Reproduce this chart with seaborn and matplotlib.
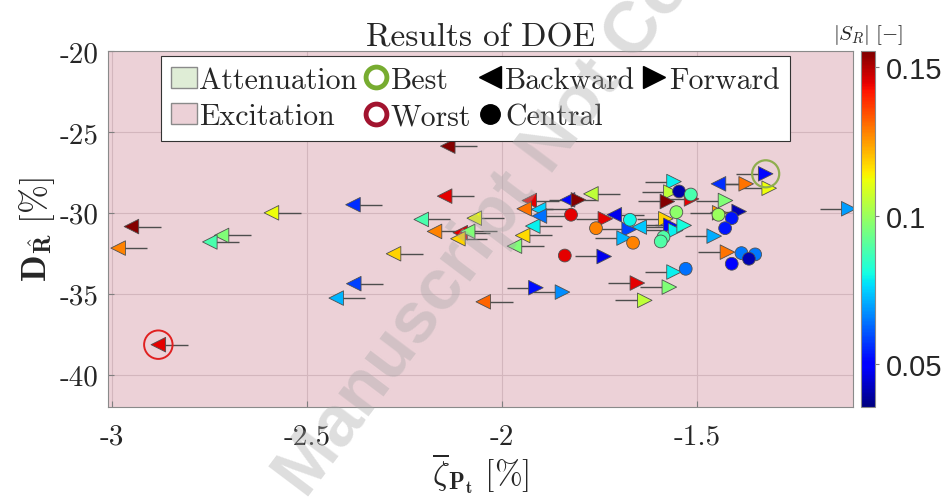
import matplotlib
matplotlib.use("Agg")
import pandas as pd
import matplotlib.pyplot as plt
import seaborn as sns
from matplotlib.cm import ScalarMappable
from matplotlib.colors import Normalize
from matplotlib.lines import Line2D
from matplotlib.patches import Patch
from matplotlib.ticker import FuncFormatter

# backward designs: marker points left, tail goes to the right
backward_x = [-2.591, -2.950, -2.984, -2.719, -2.749, -2.881, -2.425, -2.382,
              -2.139, -2.147, -2.207, -2.071, -2.173, -2.107, -2.088, -2.113,
              -2.278, -2.380, -2.048, -1.930, -1.943, -1.968, -1.947, -1.921,
              -1.906, -1.904, -1.832, -1.772, -1.712, -1.648, -1.445]
backward_y = [-30.00, -30.85, -32.18, -31.40, -31.80, -38.15, -35.27, -29.50,
              -25.88, -28.97, -30.41, -30.33, -31.15, -31.23, -31.15, -31.60,
              -32.53, -34.38, -35.50, -29.24, -29.75, -32.06, -31.40, -30.82,
              -29.79, -30.20, -29.20, -28.83, -30.12, -30.88, -28.21]
backward_s = [0.112, 0.155, 0.128, 0.096, 0.088, 0.145, 0.072, 0.056,
              0.155, 0.145, 0.088, 0.112, 0.128, 0.145, 0.096, 0.118,
              0.118, 0.058, 0.132, 0.145, 0.130, 0.096, 0.117, 0.079,
              0.075, 0.064, 0.051, 0.105, 0.047, 0.074, 0.056]

# forward designs: marker points right, tail goes to the left
forward_x = [-1.804, -1.913, -1.738, -1.845, -1.653, -1.634, -1.571, -1.559,
             -1.735, -1.674, -1.687, -1.559, -1.567, -1.576, -1.580, -1.567,
             -1.555, -1.514, -1.533, -1.427, -1.442, -1.392, -1.456, -1.374,
             -1.324, -1.315, -1.422, -1.111]
forward_y = [-29.20, -34.63, -32.70, -34.90, -34.34, -35.41, -34.59, -33.66,
             -30.37, -31.03, -31.56, -28.07, -28.72, -29.30, -30.37, -30.78,
             -31.09, -29.14, -30.78, -29.24, -30.00, -29.92, -31.44, -28.21,
             -27.59, -28.48, -32.43, -29.75]
forward_s = [0.155, 0.052, 0.047, 0.067, 0.145, 0.105, 0.096, 0.079,
             0.145, 0.058, 0.072, 0.079, 0.105, 0.155, 0.118, 0.050,
             0.079, 0.145, 0.081, 0.096, 0.125, 0.041, 0.071, 0.130,
             0.051, 0.112, 0.130, 0.069]

# central designs
central_x = [-1.823, -1.839, -1.672, -1.759, -1.664, -1.546, -1.553, -1.586,
             -1.593, -1.516, -1.529, -1.445, -1.411, -1.428, -1.386, -1.351,
             -1.411, -1.367]
central_y = [-30.12, -32.64, -30.43, -30.95, -31.85, -28.68, -29.96, -31.50,
             -31.77, -28.87, -33.46, -30.12, -30.33, -30.95, -32.49, -32.57,
             -33.15, -32.84]
central_s = [0.145, 0.145, 0.080, 0.128, 0.128, 0.040, 0.098, 0.089,
             0.089, 0.088, 0.064, 0.100, 0.053, 0.053, 0.065, 0.065,
             0.050, 0.041]

best_forward_idx = 24
worst_backward_idx = 5

x_ticks = [-3, -2.5, -2, -1.5]
y_ticks = [-40, -35, -30, -25, -20]
cbar_ticks = [0.05, 0.1, 0.15]
cbar_labels = ["0.05", "0.1", "0.15"]
s_min, s_max = 0.0355, 0.1555
tail_len = 0.075

excitation_color = "#ecd1d7"
attenuation_color = "#dfedd6"

sns.set_style("ticks")
plt.rcParams["font.family"] = "cmr10"
plt.rcParams["mathtext.fontset"] = "cm"
plt.rcParams["axes.unicode_minus"] = False

bw = pd.DataFrame({"x": backward_x, "y": backward_y, "s": backward_s})
fw = pd.DataFrame({"x": forward_x, "y": forward_y, "s": forward_s})
ct = pd.DataFrame({"x": central_x, "y": central_y, "s": central_s})

fig = plt.figure(figsize=(9.45, 5.02), dpi=100)
ax = fig.add_axes([0.1143, 0.1873, 0.7884, 0.7091])
ax.set_facecolor(excitation_color)
norm = Normalize(s_min, s_max)
jet = matplotlib.colormaps["jet"]

# tails
ax.hlines(bw["y"], bw["x"], bw["x"] + tail_len, color="#4d4d4d", lw=1.0, zorder=2)
ax.hlines(fw["y"], fw["x"] - tail_len, fw["x"], color="#4d4d4d", lw=1.0, zorder=2)

for df, marker, size in [(bw, "<", 110), (fw, ">", 110), (ct, "o", 85)]:
    sns.scatterplot(data=df, x="x", y="y", hue="s", palette=jet, hue_norm=norm,
                    marker=marker, s=size, edgecolor="#505050", linewidth=0.6,
                    legend=False, ax=ax, zorder=3)

# best / worst rings
ax.scatter(fw["x"][best_forward_idx], fw["y"][best_forward_idx], s=380,
           facecolors="none", edgecolors="#8fae4e", linewidths=1.6, zorder=4)
ax.scatter(bw["x"][worst_backward_idx], bw["y"][worst_backward_idx], s=420,
           facecolors="none", edgecolors="#e02020", linewidths=1.4, zorder=4)

ax.set_xlim(-3.01, -1.1)
ax.set_ylim(-42, -20)
ax.set_xticks(x_ticks)
ax.set_yticks(y_ticks)
fmt = FuncFormatter(lambda v, p: "%g" % v)
ax.xaxis.set_major_formatter(fmt)
ax.yaxis.set_major_formatter(fmt)
ax.grid(True, color="#d3b6bd", lw=0.8)
ax.set_axisbelow(True)
ax.tick_params(direction="in", length=4, color="#7f7f7f", labelsize=21)
ax.tick_params(axis="x", pad=12)
ax.tick_params(axis="y", pad=7)
for sp in ax.spines.values():
    sp.set_color("#8a8a8a")
    sp.set_linewidth(0.8)

ax.set_title("Results of DOE", fontsize=24, pad=2)
ax.set_xlabel(r"$\overline{\zeta}_{\mathbf{P_t}}\ [\%]$", fontsize=24, labelpad=0)
ax.set_ylabel(r"$\mathbf{D}_{\hat{\mathbf{R}}}\ [\%]$", fontsize=25, labelpad=2)

handles = [
    Patch(facecolor=attenuation_color, edgecolor="#8a8a8a", label="Attenuation"),
    Patch(facecolor=excitation_color, edgecolor="#8a8a8a", label="Excitation"),
    Line2D([], [], ls="none", marker="o", mfc="none", mec="#77ac30", mew=3.5, ms=15, label="Best"),
    Line2D([], [], ls="none", marker="o", mfc="none", mec="#a2142f", mew=3.5, ms=15, label="Worst"),
    Line2D([], [], ls="none", marker="<", color="black", ms=16, label="Backward"),
    Line2D([], [], ls="none", marker="o", color="black", ms=14, label="Central"),
    Line2D([], [], ls="none", marker=">", color="black", ms=16, label="Forward"),
]
leg = ax.legend(handles=handles, ncol=4, loc="upper center", bbox_to_anchor=(0.493, 0.986),
                fontsize=21.5, frameon=True, fancybox=False, framealpha=1,
                edgecolor="#333333", handlelength=0.85, handletextpad=0.08,
                columnspacing=0.2, borderpad=0.35, labelspacing=0.3, borderaxespad=0)
leg.get_frame().set_linewidth(0.8)

cax = fig.add_axes([0.911, 0.1873, 0.0148, 0.7091])
cb = fig.colorbar(ScalarMappable(norm=norm, cmap=jet), cax=cax)
cb.set_ticks(cbar_ticks)
cb.set_ticklabels(cbar_labels)
cb.outline.set_edgecolor("#8a8a8a")
cb.outline.set_linewidth(0.8)
cax.tick_params(length=3, color="#7f7f7f", pad=5)
for lab in cax.get_yticklabels():
    lab.set_fontfamily("Liberation Sans")
    lab.set_fontsize(21)
cax.set_title(r"$|S_R|\ [-]$", fontsize=15, pad=9)

fig.text(0.607, 0.775, "Manuscript Not Copyedited", rotation=53, ha="center",
         va="center", fontsize=52, fontweight="bold", family="Liberation Sans",
         color="#a8a8a8", alpha=0.38, zorder=10)

fig.savefig("out.png", dpi=100)
